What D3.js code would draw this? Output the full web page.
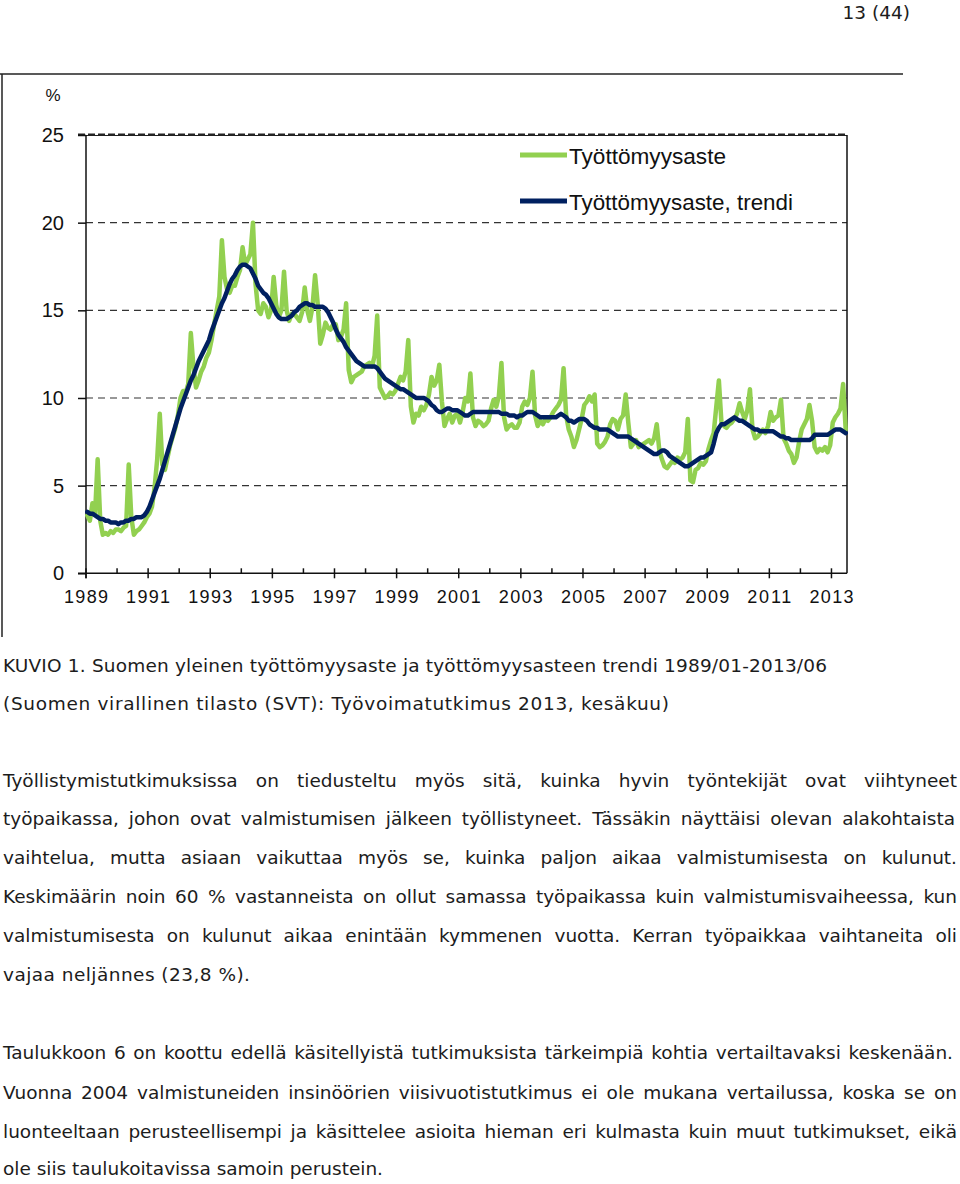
<!DOCTYPE html>
<html>
<head>
<meta charset="utf-8">
<script src="https://cdn.jsdelivr.net/npm/d3@7"></script>
<style>
  body { margin: 0; background: #fff; }
  svg { display: block; }
</style>
</head>
<body>
<svg id="page" width="960" height="1184"></svg>
<script>
// monthly unemployment rate, 1989/01 - 2013/06 (one row per year)
var startYear = 1989;
var rate = [
  3.3, 3.0, 4.0, 3.4, 6.5, 3.0, 2.2, 2.3, 2.2, 2.4, 2.3, 2.5,
  2.5, 2.4, 2.6, 2.7, 6.2, 3.2, 2.2, 2.4, 2.5, 2.7, 2.9, 3.2,
  3.4, 3.8, 4.9, 6.5, 9.1, 6.2, 5.9, 6.6, 7.3, 7.8, 8.3, 9.0,
  10.0, 10.4, 10.3, 10.8, 13.7, 11.8, 10.6, 11.0, 11.5, 11.8, 12.3, 12.6,
  13.3, 14.2, 15.0, 15.8, 19.0, 16.9, 16.2, 16.0, 16.4, 16.4, 16.9, 17.3,
  18.6, 17.6, 17.9, 18.2, 20.0, 16.5, 15.0, 14.8, 15.4, 15.2, 14.6, 15.0,
  16.9, 15.3, 14.6, 15.0, 17.2, 15.0, 14.4, 14.8, 14.8, 14.6, 14.4, 14.9,
  16.3, 15.0, 14.4, 15.2, 17.0, 15.4, 13.1, 13.6, 14.3, 14.0, 13.9, 14.2,
  14.2, 13.3, 13.5, 13.9, 15.4, 11.6, 10.9, 11.2, 11.3, 11.4, 11.5, 11.8,
  11.9, 12.0, 11.8, 12.4, 14.7, 10.6, 10.3, 10.0, 10.1, 10.3, 10.2, 10.4,
  10.8, 11.2, 11.0, 11.5, 13.3, 9.5, 8.6, 9.1, 9.0, 9.5, 9.3, 9.6,
  10.2, 11.2, 10.7, 11.0, 11.9, 9.8, 8.4, 8.8, 9.1, 8.6, 9.0, 9.1,
  8.6, 9.2, 10.0, 9.8, 11.4, 8.9, 8.4, 8.7, 8.6, 8.4, 8.5, 8.7,
  9.4, 9.9, 9.5, 10.1, 12.0, 8.9, 8.2, 8.4, 8.5, 8.3, 8.3, 8.6,
  9.5, 9.8, 9.6, 10.0, 11.5, 9.0, 8.4, 8.7, 8.5, 8.8, 8.7, 8.9,
  9.2, 9.4, 9.6, 9.9, 11.7, 9.0, 8.2, 7.8, 7.2, 7.6, 8.2, 8.8,
  9.6, 9.8, 10.1, 9.8, 10.2, 7.4, 7.2, 7.3, 7.5, 7.8, 8.5, 8.8,
  8.7, 8.2, 8.8, 9.0, 10.2, 8.6, 7.2, 7.4, 7.6, 7.2, 7.3, 7.4,
  7.5, 7.6, 7.4, 7.7, 8.5, 7.0, 6.5, 6.1, 6.0, 6.2, 6.4, 6.3,
  6.6, 6.5, 6.6, 6.9, 8.8, 5.3, 5.2, 5.9, 6.0, 6.3, 6.2, 6.4,
  7.1, 7.6, 8.0, 9.5, 11.0, 8.6, 8.4, 8.3, 8.5, 8.6, 8.8, 9.1,
  9.7, 9.2, 8.8, 9.3, 10.5, 8.2, 7.7, 7.8, 8.0, 8.2, 8.0, 8.4,
  9.2, 8.7, 8.9, 9.0, 9.9, 7.7, 7.4, 7.0, 6.8, 6.3, 6.6, 7.5,
  8.2, 8.5, 8.8, 9.6, 8.7, 7.2, 6.9, 7.1, 7.0, 7.2, 6.9, 7.3,
  8.6, 8.9, 9.1, 9.4, 10.8, 8.2
];

// trend of the rate, same months
var trend = [
  3.5, 3.4, 3.4, 3.3, 3.2, 3.1, 3.1, 3.0, 3.0, 2.9, 2.9, 2.9,
  2.8, 2.9, 2.9, 3.0, 3.0, 3.1, 3.1, 3.2, 3.2, 3.2, 3.3, 3.5,
  3.8, 4.2, 4.6, 5.0, 5.4, 5.9, 6.4, 6.9, 7.4, 7.9, 8.4, 8.9,
  9.4, 9.8, 10.2, 10.6, 11.0, 11.3, 11.7, 12.1, 12.4, 12.7, 13.0, 13.3,
  13.8, 14.2, 14.6, 15.0, 15.4, 15.7, 16.1, 16.5, 16.8, 17.0, 17.3, 17.5,
  17.6, 17.6, 17.5, 17.4, 17.1, 16.8, 16.4, 16.2, 16.0, 15.9, 15.7, 15.4,
  15.1, 14.8, 14.6, 14.5, 14.5, 14.5, 14.6, 14.7, 14.9, 15.0, 15.2, 15.3,
  15.4, 15.4, 15.3, 15.3, 15.2, 15.2, 15.2, 15.2, 15.1, 14.9, 14.6, 14.3,
  13.9, 13.6, 13.4, 13.2, 12.9, 12.7, 12.5, 12.3, 12.1, 12.0, 11.9, 11.8,
  11.8, 11.8, 11.8, 11.8, 11.7, 11.5, 11.3, 11.1, 11.0, 10.9, 10.8, 10.7,
  10.6, 10.5, 10.5, 10.4, 10.3, 10.2, 10.1, 10.0, 10.0, 10.0, 10.0, 9.9,
  9.8, 9.6, 9.5, 9.3, 9.2, 9.2, 9.3, 9.4, 9.4, 9.3, 9.3, 9.3,
  9.2, 9.1, 9.0, 9.0, 9.1, 9.2, 9.2, 9.2, 9.2, 9.2, 9.2, 9.2,
  9.2, 9.2, 9.2, 9.2, 9.1, 9.1, 9.1, 9.0, 9.0, 9.0, 8.9, 9.0,
  9.0, 9.1, 9.2, 9.2, 9.2, 9.1, 9.0, 8.9, 8.9, 8.9, 8.9, 8.9,
  8.9, 8.9, 9.0, 9.1, 9.0, 8.9, 8.7, 8.7, 8.6, 8.7, 8.8, 8.8,
  8.8, 8.7, 8.5, 8.4, 8.3, 8.3, 8.2, 8.2, 8.2, 8.2, 8.1, 8.0,
  7.9, 7.8, 7.8, 7.8, 7.8, 7.8, 7.7, 7.6, 7.5, 7.4, 7.3, 7.2,
  7.1, 7.0, 6.9, 6.8, 6.8, 6.9, 7.0, 7.0, 6.9, 6.7, 6.6, 6.5,
  6.4, 6.3, 6.2, 6.1, 6.1, 6.2, 6.3, 6.4, 6.5, 6.6, 6.6, 6.7,
  6.8, 6.9, 7.4, 8.0, 8.3, 8.5, 8.5, 8.6, 8.7, 8.8, 8.9, 8.8,
  8.7, 8.7, 8.6, 8.5, 8.4, 8.3, 8.2, 8.2, 8.1, 8.1, 8.1, 8.1,
  8.1, 8.1, 8.0, 7.9, 7.8, 7.8, 7.7, 7.7, 7.6, 7.6, 7.6, 7.6,
  7.6, 7.6, 7.6, 7.6, 7.7, 7.9, 7.9, 7.9, 7.9, 7.9, 7.9, 8.0,
  8.1, 8.2, 8.2, 8.2, 8.1, 8.0
];

var yTicks = [0, 5, 10, 15, 20, 25];
var labelYears = [1989, 1991, 1993, 1995, 1997, 1999, 2001, 2003, 2005, 2007, 2009, 2011, 2013];
var minorYears = [1990, 1992, 1994, 1996, 1998, 2000, 2002, 2004, 2006, 2008, 2010, 2012];
var seriesNames = ["Työttömyysaste", "Työttömyysaste, trendi"];
var seriesColors = ["#92d050", "#002060"];

var pageNo = "13 (44)";
var caption = [
  "KUVIO 1. Suomen yleinen työttömyysaste ja työttömyysasteen trendi 1989/01-2013/06",
  "(Suomen virallinen tilasto (SVT): Työvoimatutkimus 2013, kesäkuu)"
];
var para1 = [
  "Työllistymistutkimuksissa on tiedusteltu myös sitä, kuinka hyvin työntekijät ovat viihtyneet",
  "työpaikassa, johon ovat valmistumisen jälkeen työllistyneet. Tässäkin näyttäisi olevan alakohtaista",
  "vaihtelua, mutta asiaan vaikuttaa myös se, kuinka paljon aikaa valmistumisesta on kulunut.",
  "Keskimäärin noin 60 % vastanneista on ollut samassa työpaikassa kuin valmistumisvaiheessa, kun",
  "valmistumisesta on kulunut aikaa enintään kymmenen vuotta. Kerran työpaikkaa vaihtaneita oli",
  "vajaa neljännes (23,8 %)."
];
var para2 = [
  "Taulukkoon 6 on koottu edellä käsitellyistä tutkimuksista tärkeimpiä kohtia vertailtavaksi keskenään.",
  "Vuonna 2004 valmistuneiden insinöörien viisivuotistutkimus ei ole mukana vertailussa, koska se on",
  "luonteeltaan perusteellisempi ja käsittelee asioita hieman eri kulmasta kuin muut tutkimukset, eikä",
  "ole siis taulukoitavissa samoin perustein."
];

var svg = d3.select("#page");

// outer frame (top + left rule)
svg.append("line").attr("x1", 0).attr("x2", 903).attr("y1", 74).attr("y2", 74)
    .attr("stroke", "#222").attr("stroke-width", 1.5);
svg.append("line").attr("x1", 2).attr("x2", 2).attr("y1", 74).attr("y2", 637)
    .attr("stroke", "#222").attr("stroke-width", 1.5);

var x = d3.scaleLinear().domain([startYear, 2013.5]).range([86, 847]);
var y = d3.scaleLinear().domain([0, 25]).range([573.3, 135]);

var chart = svg.append("g").attr("class", "chart");

// dashed grid
chart.selectAll(".grid")
    .data(yTicks.filter(function (d) { return d > 0 && d < 25; }))
    .enter().append("line")
    .attr("class", "grid")
    .attr("x1", x(startYear)).attr("x2", x(2013.5))
    .attr("y1", function (d) { return y(d); })
    .attr("y2", function (d) { return y(d); })
    .attr("stroke", "#333").attr("stroke-width", 1.2)
    .attr("stroke-dasharray", "7,5");

// top line: solid with heavy dashes over it
chart.append("line").attr("x1", x(startYear) - 8).attr("x2", x(2013.5))
    .attr("y1", y(25) + 0.5).attr("y2", y(25) + 0.5)
    .attr("stroke", "#222").attr("stroke-width", 1);
chart.append("line").attr("x1", x(startYear) - 8).attr("x2", x(2013.5))
    .attr("y1", y(25) - 0.5).attr("y2", y(25) - 0.5)
    .attr("stroke", "#222").attr("stroke-width", 2)
    .attr("stroke-dasharray", "7,3");

// y axis
var yAxis = d3.axisLeft(y).tickValues(yTicks).tickSize(8).tickPadding(14);
var gy = chart.append("g").attr("transform", "translate(" + x(startYear) + ",0)").call(yAxis);
gy.select(".domain").remove();
gy.selectAll(".tick line").attr("stroke", "#111").attr("stroke-width", 1.5);
gy.selectAll(".tick text")
    .attr("fill", "#111")
    .style("font-family", "'Liberation Sans', Arial, sans-serif")
    .style("font-size", "20px");

// axis frame
chart.append("line").attr("x1", x(startYear)).attr("x2", x(startYear))
    .attr("y1", y(25)).attr("y2", y(0) + 5)
    .attr("stroke", "#111").attr("stroke-width", 1.5);
chart.append("line").attr("x1", x(2013.5)).attr("x2", x(2013.5))
    .attr("y1", y(25)).attr("y2", y(0))
    .attr("stroke", "#111").attr("stroke-width", 1.5);
chart.append("line").attr("x1", x(startYear) - 8).attr("x2", x(2013.5))
    .attr("y1", y(0)).attr("y2", y(0))
    .attr("stroke", "#111").attr("stroke-width", 1.5);

// x ticks
chart.selectAll(".major")
    .data(labelYears).enter().append("line")
    .attr("x1", function (d) { return x(d); }).attr("x2", function (d) { return x(d); })
    .attr("y1", y(0) - 5).attr("y2", y(0) + 5)
    .attr("stroke", "#111").attr("stroke-width", 1.5);
chart.selectAll(".minor")
    .data(minorYears).enter().append("line")
    .attr("x1", function (d) { return x(d); }).attr("x2", function (d) { return x(d); })
    .attr("y1", y(0) - 5).attr("y2", y(0))
    .attr("stroke", "#111").attr("stroke-width", 1.5);
chart.selectAll(".xlabel")
    .data(labelYears).enter().append("text")
    .attr("x", function (d) { return x(d); })
    .attr("y", y(0) + 30)
    .attr("text-anchor", "middle")
    .attr("textLength", 44).attr("lengthAdjust", "spacing")
    .attr("fill", "#111")
    .style("font-family", "'Liberation Sans', Arial, sans-serif")
    .style("font-size", "18px")
    .text(function (d) { return d; });

chart.append("text").attr("x", 53).attr("y", 101).attr("text-anchor", "middle")
    .attr("fill", "#111")
    .style("font-family", "'Liberation Sans', Arial, sans-serif")
    .style("font-size", "17px")
    .text("%");

// series
function monthX(d, i) { return x(startYear + (i + 0.5) / 12); }
var line = d3.line().x(monthX).y(function (d) { return y(d); });

[rate, trend].forEach(function (s, k) {
    chart.append("path")
        .datum(s)
        .attr("d", line)
        .attr("fill", "none")
        .attr("stroke", seriesColors[k])
        .attr("stroke-width", k === 0 ? 4.5 : 4.5)
        .attr("stroke-linejoin", "round")
        .attr("stroke-linecap", "round");
});

// legend
var legendW = [157, 224];
var legend = chart.selectAll(".legend").data(seriesNames).enter().append("g")
    .attr("transform", function (d, i) { return "translate(520," + (155 + i * 46) + ")"; });
legend.append("line").attr("x1", 0).attr("x2", 47)
    .attr("stroke", function (d, i) { return seriesColors[i]; })
    .attr("stroke-width", 5);
legend.append("text").attr("x", 49).attr("y", 9)
    .attr("textLength", function (d, i) { return legendW[i]; })
    .attr("lengthAdjust", "spacingAndGlyphs")
    .attr("fill", "#111")
    .style("font-family", "'Liberation Sans Narrow', 'Liberation Sans', Arial, sans-serif")
    .style("font-size", "22px")
    .text(function (d) { return d; });

// text of the page
var body = svg.append("g")
    .attr("fill", "#1c1c1c")
    .style("font-family", "'DejaVu Sans', Verdana, sans-serif")
    .style("font-size", "18.5px");

body.append("text").attr("x", 910).attr("y", 19).attr("text-anchor", "end").text(pageNo);

function textLine(str, yc, justify, x1, width) {
    var yb = yc + 7;
    if (!justify) {
        var t = body.append("text").attr("x", 3).attr("y", yb).text(str);
        if (width) t.attr("textLength", width).attr("lengthAdjust", "spacing");
        return;
    }
    var words = str.split(" ");
    var nodes = words.map(function (w) { return body.append("text").attr("y", yb).text(w); });
    var widths = nodes.map(function (n) { return n.node().getComputedTextLength(); });
    var gap = (x1 - 3 - d3.sum(widths)) / (words.length - 1);
    if (gap < 2) {
        nodes.forEach(function (n) { n.remove(); });
        body.append("text").attr("x", 3).attr("y", yb).text(str)
            .attr("textLength", x1 - 3).attr("lengthAdjust", "spacingAndGlyphs");
        return;
    }
    var cx = 3;
    nodes.forEach(function (n, i) { n.attr("x", cx); cx += widths[i] + gap; });
}

textLine(caption[0], 665, false, 0, 824);
textLine(caption[1], 703, false, 0, 666);

var p1y = [780, 818, 857, 896, 935, 974];
para1.forEach(function (s, i) {
    if (i < para1.length - 1) textLine(s, p1y[i], true, i === 1 ? 955 : 957);
    else textLine(s, p1y[i], false, 0, 247);
});
var p2y = [1052, 1092, 1131, 1168];
para2.forEach(function (s, i) {
    if (i < para2.length - 1) textLine(s, p2y[i], true, i === 0 ? 953 : 957);
    else textLine(s, p2y[i], false, 0, 380);
});
</script>
</body>
</html>
